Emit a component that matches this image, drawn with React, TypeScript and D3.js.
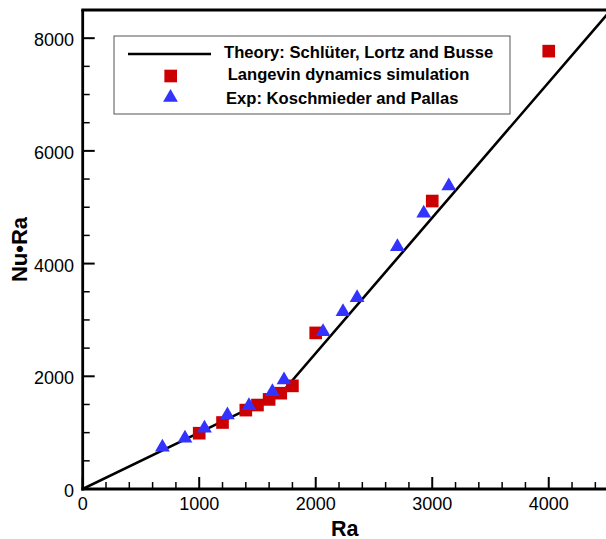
import React from "react";
import * as d3 from "d3";

const theoryRa = [0, 1708, 4500];
const theoryNuRa = [0, 1708, 8420];

const simRa = [1000, 1200, 1400, 1500, 1600, 1700, 1800, 2000, 3000, 4000];
const simNuRa = [990, 1180, 1400, 1490, 1590, 1700, 1830, 2770, 5110, 7770];

const expRa = [684, 878, 1045, 1242, 1427, 1628, 1728, 2063, 2234, 2355, 2701, 2927, 3142];
const expNuRa = [740, 900, 1077, 1313, 1478, 1727, 1934, 2791, 3146, 3395, 4300, 4893, 5377];

const xTicks = [0, 1000, 2000, 3000, 4000];
const yTicks = [0, 2000, 4000, 6000, 8000];

const legendLabels = [
  "Theory: Schlüter, Lortz and Busse",
  "Langevin dynamics simulation",
  "Exp: Koschmieder and Pallas",
];

const FONT = "'Liberation Sans', Arial, Helvetica, sans-serif";
const RED = "#cc0000";
const BLUE = "#3333ff";

export default function App() {
  const left = 82.7, right = 607, top = 10, bottom = 489;
  const x = d3.scaleLinear().domain([0, 4500]).range([left, right]);
  const y = d3.scaleLinear().domain([0, 8500]).range([bottom, top]);

  const line = d3
    .line<number>()
    .x((_, i) => x(theoryRa[i]))
    .y((d) => y(d));

  const tri = d3.symbol(d3.symbolTriangle, 95)()!;
  const sq = d3.symbol(d3.symbolSquare, 160)()!;

  const xMinor = d3.range(0, 4501, 200).filter((v) => v % 1000 !== 0);
  const yMinor = d3.range(0, 8501, 500).filter((v) => v % 2000 !== 0);

  return (
    <svg
      width={606}
      height={539}
      style={{ position: "absolute", left: 0, top: 0, background: "#fff" }}
      fontFamily={FONT}
    >
      <defs>
        <clipPath id="plot">
          <rect x={left} y={top} width={right - left} height={bottom - top} />
        </clipPath>
      </defs>

      {/* theory line */}
      <path
        d={line(theoryNuRa) || ""}
        fill="none"
        stroke="#000"
        strokeWidth={2.6}
        clipPath="url(#plot)"
      />

      {/* simulation squares */}
      {simRa.map((r, i) => (
        <path key={"s" + i} d={sq} transform={`translate(${x(r)},${y(simNuRa[i])})`} fill={RED} />
      ))}

      {/* experiment triangles */}
      {expRa.map((r, i) => (
        <path key={"t" + i} d={tri} transform={`translate(${x(r)},${y(expNuRa[i])})`} fill={BLUE} />
      ))}

      {/* ticks */}
      {xTicks.map((t) => (
        <line key={"xt" + t} x1={x(t)} x2={x(t)} y1={bottom} y2={bottom - 12} stroke="#000" strokeWidth={2} />
      ))}
      {xMinor.map((t) => (
        <line key={"xm" + t} x1={x(t)} x2={x(t)} y1={bottom} y2={bottom - 7} stroke="#000" strokeWidth={1.5} />
      ))}
      {yTicks.map((t) => (
        <line key={"yt" + t} x1={left} x2={left + 12} y1={y(t)} y2={y(t)} stroke="#000" strokeWidth={2} />
      ))}
      {yMinor.map((t) => (
        <line key={"ym" + t} x1={left} x2={left + 7} y1={y(t)} y2={y(t)} stroke="#000" strokeWidth={1.5} />
      ))}

      {/* frame / axes */}
      <line x1={left} x2={left} y1={top} y2={bottom + 1.4} stroke="#000" strokeWidth={2.8} />
      <line x1={left - 1.4} x2={612} y1={bottom} y2={bottom} stroke="#000" strokeWidth={2.8} />
      <line x1={left - 1.4} x2={612} y1={top} y2={top} stroke="#000" strokeWidth={2.8} />

      {/* tick labels */}
      {xTicks.map((t) => (
        <text key={"xl" + t} x={x(t)} y={509.5} textAnchor="middle" fontSize={18} fill="#000">
          {t}
        </text>
      ))}
      {yTicks.map((t) => (
        <text key={"yl" + t} x={74} y={y(t) + 1.5} dy="0.36em" textAnchor="end" fontSize={18} fill="#000">
          {t}
        </text>
      ))}

      {/* axis titles */}
      <text x={x(2250)} y={535.5} textAnchor="middle" fontSize={21.5} fontWeight="bold" fill="#000">
        Ra
      </text>
      <text
        transform={`translate(27,${y(4250)}) rotate(-90)`}
        textAnchor="middle"
        fontSize={22}
        fontWeight="bold"
        fill="#000"
      >
        Nu•Ra
      </text>

      {/* legend */}
      <rect x={114} y={36} width={396} height={78} fill="#fff" stroke="#555" strokeWidth={1} />
      <line x1={128} x2={211} y1={54} y2={54} stroke="#000" strokeWidth={2.6} />
      <path d={sq} transform="translate(170.7,76)" fill={RED} />
      <path d={tri} transform="translate(170.5,97.5)" fill={BLUE} />
      <text x={224} y={57.5} fontSize={16.6} fontWeight="bold" fill="#000">
        {legendLabels[0]}
      </text>
      <text x={227.7} y={80.3} fontSize={16.6} fontWeight="bold" fill="#000">
        {legendLabels[1]}
      </text>
      <text x={226} y={104} fontSize={16.6} fontWeight="bold" fill="#000">
        {legendLabels[2]}
      </text>
    </svg>
  );
}
